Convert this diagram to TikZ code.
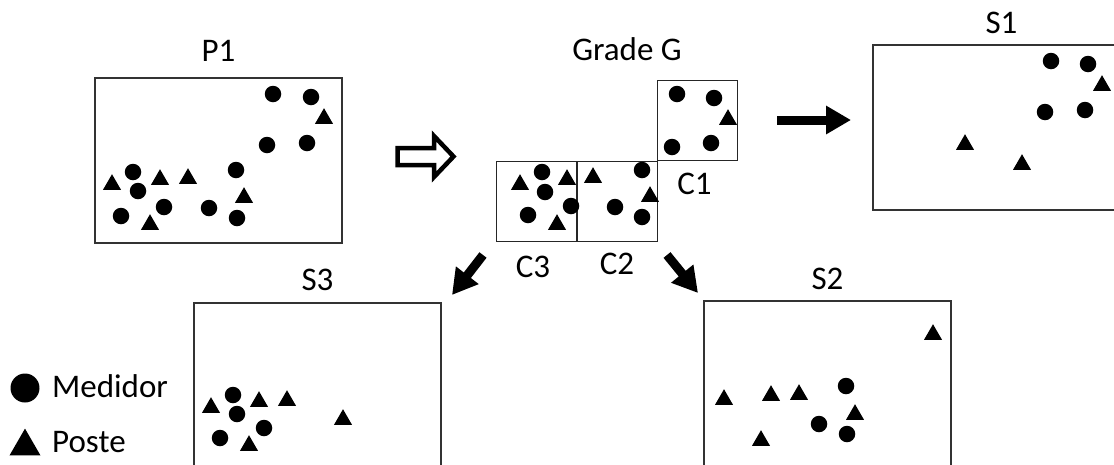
\documentclass[tikz,border=0pt]{standalone}
\usepackage{fontspec}
\setmainfont{Carlito}
\usetikzlibrary{positioning, shapes.geometric, arrows.meta}
\tikzset{
  caixa/.style={draw=black!80, line width=1.6pt, inner sep=0pt, minimum width=247pt, minimum height=165pt},
  celula/.style={draw=black!85, line width=1.4pt, inner sep=0pt, minimum size=80.5pt},
  medidor/.style={circle, fill, inner sep=0pt, minimum size=16.5pt},
  triangulo/.style={regular polygon, regular polygon sides=3, fill, inner sep=0pt},
  poste/.style={triangulo, minimum size=20.8pt, yshift=-2.6pt},
  rotulo/.style={inner sep=0pt, font=\fontsize{33}{39}\selectfont},
  seta/.style={-{Triangle[length=25pt, width=27pt]}, line width=9pt},
  oca/.style={line width=4.5pt, line join=miter},
}

\begin{document}
\begin{tikzpicture}[x=1pt, y=-1pt]
  \useasboundingbox (0,0) rectangle (1114,464);
  \clip (0,0) rectangle (1114,464);

  % caixas e grade
  \node[caixa] (P1) at (218.5,160.5) {};
  \node[caixa] (S1) at (996.5,127.5) {};
  \node[caixa] (S3) at (317.5,385.5) {};
  \node[caixa] (S2) at (827.5,383.5) {};
  \node[celula] (C1) at (697.5,120.5) {};
  \node[celula] (C2) at (617,201.5) {};
  \node[celula] (C3) at (537,201.5) {};

  % titulos
  \node[rotulo, above=16pt of P1] (tP1) {P1};
  \node[rotulo, above=10pt of S1, xshift=5pt] (tS1) {S1};
  \node[rotulo, above=11pt of S3] (tS3) {S3};
  \node[rotulo, above=10pt of S2] (tS2) {S2};
  \node[rotulo, anchor=south] (tG) at (627,61) {Grade G};
  \node[rotulo, below=11pt of C1, xshift=-3pt] (tC1) {C1};
  \node[rotulo, below=10pt of C2] (tC2) {C2};
  \node[rotulo, below=13pt of C3, xshift=-4pt] (tC3) {C3};

  % P1
  \foreach \x/\y [count=\i] in {273/94, 311/97, 267/145, 307/143, 133/172, 236/170,
      138/191, 164/207, 121/216, 209/208, 237/218}
    \node[medidor] (mP1-\i) at (\x,\y) {};
  \foreach \x/\y [count=\i] in {324/116, 112/182, 160/177, 188/176, 244/195, 150/222}
    \node[poste] (pP1-\i) at (\x,\y) {};

  % celulas C1, C2, C3
  \foreach \x/\y [count=\i] in {677/94, 714/98, 672/147, 711/143}
    \node[medidor] (mC1-\i) at (\x,\y) {};
  \node[poste] (pC1-1) at (728,117) {};
  \foreach \x/\y [count=\i] in {642/170, 615/207, 642/217}
    \node[medidor] (mC2-\i) at (\x,\y) {};
  \foreach \x/\y [count=\i] in {593/175, 650/194}
    \node[poste] (pC2-\i) at (\x,\y) {};
  \foreach \x/\y [count=\i] in {542/172, 545/192, 571/206, 528/215}
    \node[medidor] (mC3-\i) at (\x,\y) {};
  \foreach \x/\y [count=\i] in {520/182, 567/177, 557/222}
    \node[poste] (pC3-\i) at (\x,\y) {};

  % S1
  \foreach \x/\y [count=\i] in {1051/61, 1088/64, 1045/112, 1085/110}
    \node[medidor] (mS1-\i) at (\x,\y) {};
  \foreach \x/\y [count=\i] in {1102/83, 965/142, 1022/162}
    \node[poste] (pS1-\i) at (\x,\y) {};

  % S2
  \foreach \x/\y [count=\i] in {846/386, 819/424, 847/434}
    \node[medidor] (mS2-\i) at (\x,\y) {};
  \foreach \x/\y [count=\i] in {933/332, 724/397, 771/393, 799/392, 855/412, 761/438}
    \node[poste] (pS2-\i) at (\x,\y) {};

  % S3
  \foreach \x/\y [count=\i] in {233/395, 237/414, 264/428, 220/438}
    \node[medidor] (mS3-\i) at (\x,\y) {};
  \foreach \x/\y [count=\i] in {211/405, 259/399, 287/398, 249/443, 343/417}
    \node[poste] (pS3-\i) at (\x,\y) {};

  % setas
  \draw[oca] (397.5,148) -- (434,148) -- (434,136) -- (453.5,156.5)
    -- (434,177) -- (434,165) -- (397.5,165) -- cycle;
  \coordinate (a1) at (777,120);
  \coordinate (b1) at (851,120);
  \coordinate (a2) at (667,255);
  \coordinate (b2) at (698,293);
  \coordinate (a3) at (483,255);
  \coordinate (b3) at (452,295);
  \draw[seta] (a1) -- (b1);
  \draw[seta] (a2) -- (b2);
  \draw[seta] (a3) -- (b3);

  % legenda
  \node[medidor, minimum size=29pt] (legM) at (25,388) {};
  \node[triangulo, minimum size=35.8pt, yshift=-4.5pt] (legP) at (25,442) {};
  \node[rotulo, anchor=base west] (txtM) at (52,397) {Medidor};
  \node[rotulo, anchor=base west] (txtP) at (52,452) {Poste};
\end{tikzpicture}
\end{document}
